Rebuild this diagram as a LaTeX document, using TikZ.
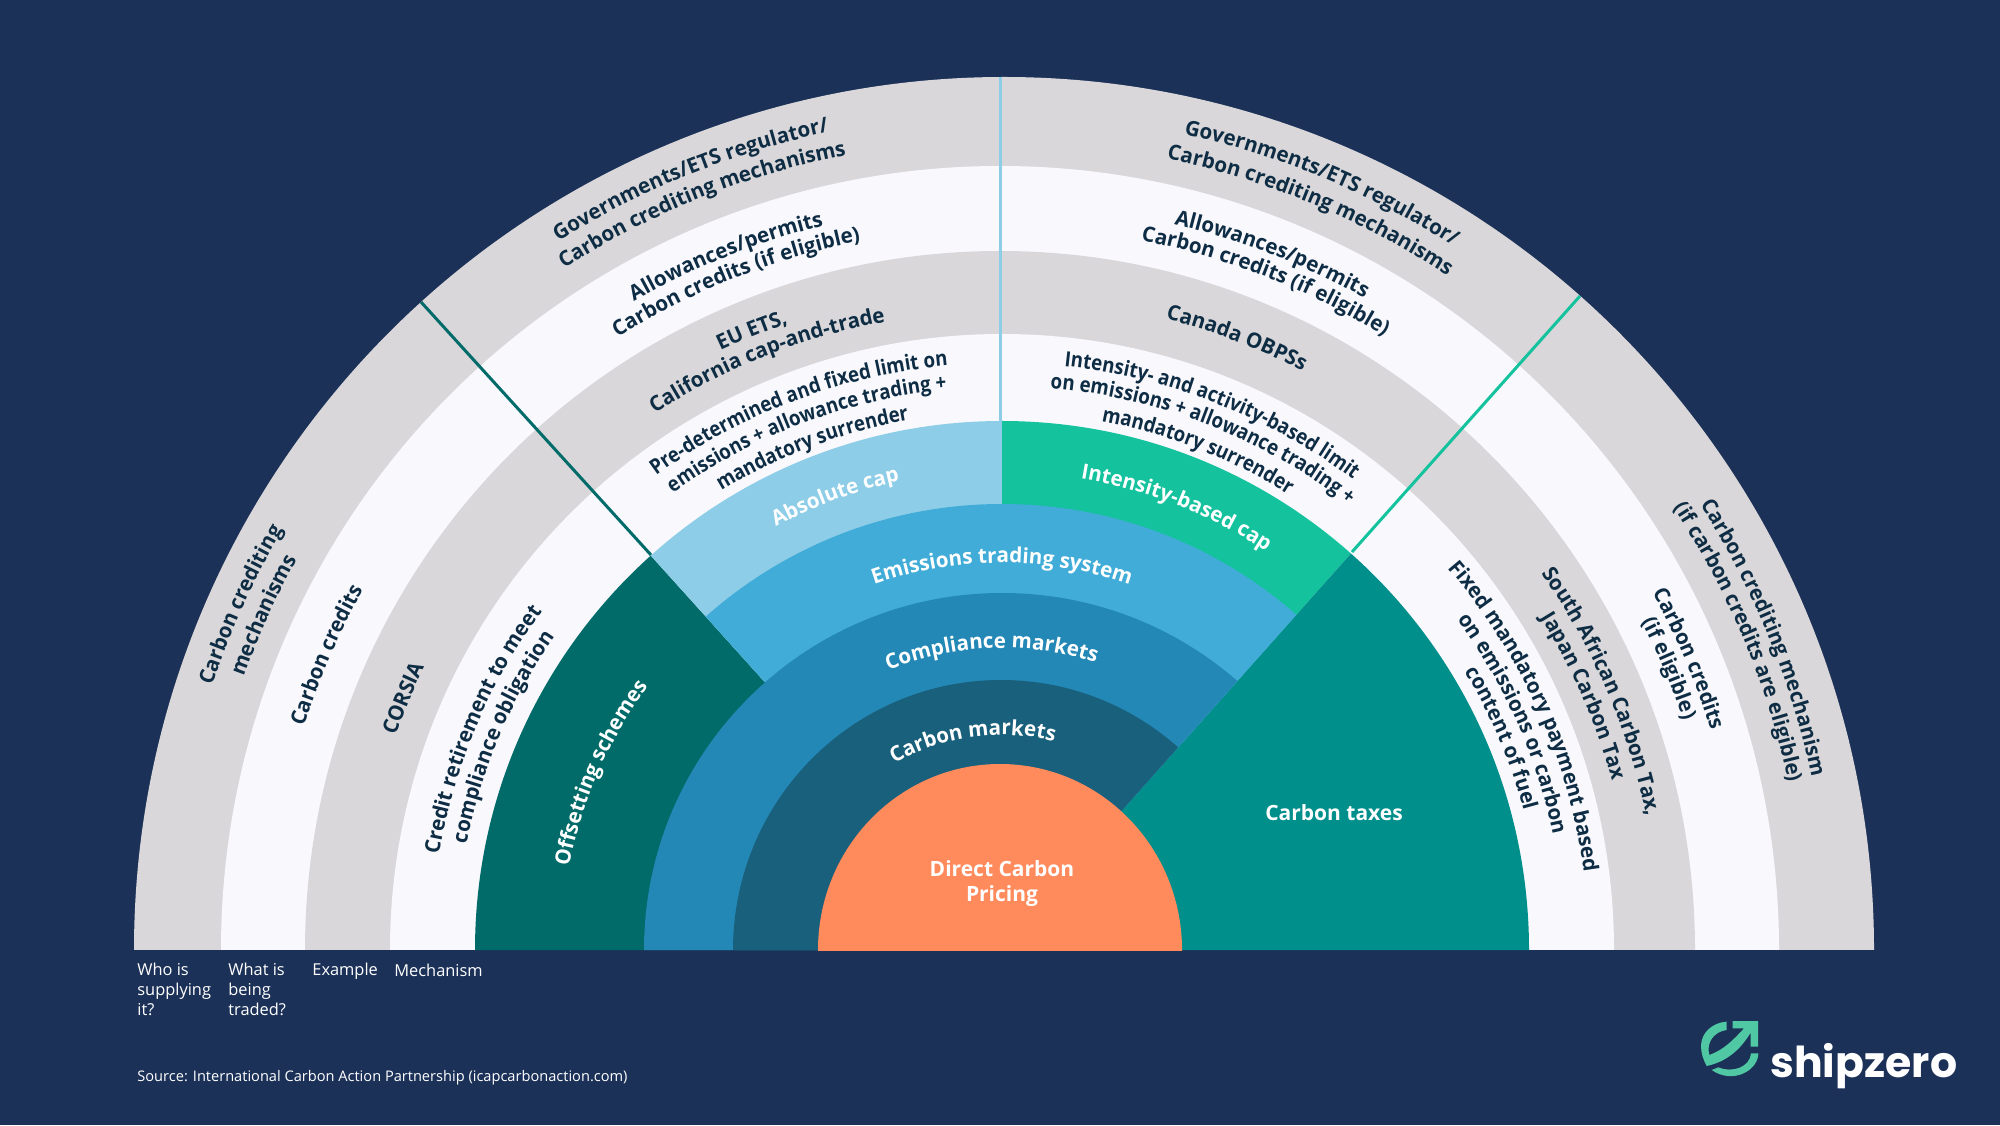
\documentclass[tikz,border=0pt]{standalone}
\usepackage{fontspec}
\setmainfont{Open Sans}
\newfontfamily\fbold{Open Sans Bold}
\newfontfamily\fa[FakeStretch=0.98]{Open Sans Bold}
\newfontfamily\fb[FakeStretch=0.89]{Open Sans Bold}
\newfontfamily\logofont{Poppins Bold}
\usetikzlibrary{decorations.text}
\definecolor{bgnavy}{HTML}{1C3158}
\definecolor{ringgrey}{HTML}{D9D7D9}
\definecolor{ringwhite}{HTML}{F8F8FD}
\definecolor{orangec}{HTML}{FF8A5C}
\definecolor{marketc}{HTML}{19607C}
\definecolor{compc}{HTML}{2488B6}
\definecolor{emisc}{HTML}{41ACD8}
\definecolor{absc}{HTML}{8ECDE8}
\definecolor{intc}{HTML}{14C29E}
\definecolor{offc}{HTML}{006B68}
\definecolor{taxc}{HTML}{008F8B}
\definecolor{inkc}{HTML}{0E2D44}
\definecolor{logoc}{HTML}{50C8A3}
\newcommand\ringtext[5][\fa]{%
  \path[decorate,decoration={text along path,
    text={|#1\fontsize{10.5}{13}\selectfont\color{#2}|#5},text align=center}]
    ([shift={(#4+50:#3)}]1002,175) arc[start angle=#4+50,end angle=#4-50,radius=#3];}
\tikzset{
  heading/.style={text=white,font=\fbold\fontsize{10.5}{12.6}\selectfont,align=center,inner sep=0pt},
  legend/.style={text=white,font=\fontsize{8.2}{10}\selectfont,align=left,inner sep=0pt,anchor=north west},
}
\begin{document}
\begin{tikzpicture}[x=0.5pt,y=0.5pt]
\useasboundingbox (0,0) rectangle (2000,1125);
\fill[bgnavy] (0,0) rectangle (2000,1125);
\begin{scope}
  \clip (0,175.6) rectangle (2000,1125);
  \fill[ringgrey] (1004,175) ellipse [x radius=870,y radius=873];
  \fill[ringwhite] (1000,175) ellipse [x radius=779,y radius=784];
  \fill[ringgrey] (1000,175) ellipse [x radius=695,y radius=699];
  \fill[ringwhite] (1002,175) ellipse [x radius=612,y radius=616];
  \draw[absc,line width=1.5pt] (1000,1048) -- (1000,704);
  \draw[offc,line width=1.5pt] (421,823) -- (651,570);
  \draw[intc,line width=1.5pt] (1580,829) -- (1352,573);
\end{scope}
\begin{scope}
  \clip (0,175) rectangle (2000,1125);
  \begin{scope}
    \clip (1002,180) -- (200,1069) -- (0,1069) -- (0,175) -- (1002,175) -- cycle;
    \fill[offc] (1002,175) ellipse [x radius=527,y radius=529];
  \end{scope}
  \begin{scope}
    \clip (1002,180) -- (200,1069) -- (1002,1069) -- cycle;
    \fill[absc] (1002,175) ellipse [x radius=527,y radius=529];
  \end{scope}
  \begin{scope}
    \clip (1002,180) -- (1800,1075) -- (1002,1075) -- cycle;
    \fill[intc] (1002,175) ellipse [x radius=527,y radius=529];
  \end{scope}
  \begin{scope}
    \clip (1002,180) -- (1800,1075) -- (2000,1075) -- (2000,175) -- (1002,175) -- cycle;
    \fill[taxc] (1002,175) ellipse [x radius=527,y radius=529];
  \end{scope}
  \begin{scope}
    \clip (1002,180) -- (200,1069) -- (1800,1075) -- cycle;
    \fill[emisc] (1002,175) ellipse [x radius=446,y radius=446];
  \end{scope}
  \begin{scope}
    \clip (1002,180) -- (1800,1075) -- (0,1075) -- (0,175) -- (1002,175) -- cycle;
    \fill[compc] (1002,175) ellipse [x radius=358,y radius=357];
    \fill[marketc] (1001,175) ellipse [x radius=268,y radius=270];
  \end{scope}
  \fill[orangec] (1000,175) ellipse [x radius=182,y radius=186];
\end{scope}

% top left block
\ringtext{inkc}{836}{112}{Governments/ETS regulator/}
\ringtext{inkc}{810}{111.9}{Carbon crediting mechanisms}
\ringtext{inkc}{746}{111.7}{Allowances/permits}
\ringtext{inkc}{723}{111.7}{Carbon credits (if eligible)}
\ringtext{inkc}{662}{112}{EU ETS,}
\ringtext{inkc}{639}{111.7}{California cap-and-trade}
\ringtext[\fb]{inkc}{587}{110.7}{Pre-determined and fixed limit on}
\ringtext[\fb]{inkc}{563}{110.7}{emissions + allowance trading +}
\ringtext[\fb]{inkc}{538}{110.7}{mandatory surrender}
\ringtext{white}{480}{110.2}{Absolute cap}
% top right block
\ringtext{inkc}{836}{67.4}{Governments/ETS regulator/}
\ringtext{inkc}{808}{67.4}{Carbon crediting mechanisms}
\ringtext{inkc}{746}{68.8}{Allowances/permits}
\ringtext{inkc}{723}{68.5}{Carbon credits (if eligible)}
\ringtext{inkc}{652}{69}{Canada OBPSs}
\ringtext[\fb]{inkc}{587}{68.6}{Intensity- and activity-based limit}
\ringtext[\fb]{inkc}{564}{68.6}{on emissions + allowance trading +}
\ringtext[\fb]{inkc}{538}{68.6}{mandatory surrender}
\ringtext{white}{478}{68.5}{Intensity-based cap}
% centre rings
\ringtext{white}{387}{90}{Emissions trading system}
\ringtext{white}{302}{92}{Compliance markets}
\ringtext{white}{215}{98}{Carbon markets}
% left block
\ringtext{inkc}{833}{155.6}{Carbon crediting}
\ringtext{inkc}{806}{155.6}{mechanisms}
\ringtext{inkc}{733}{156.4}{Carbon credits}
\ringtext{inkc}{643}{157.2}{CORSIA}
\ringtext{inkc}{571}{157}{Credit retirement to meet}
\ringtext{inkc}{546}{156.9}{compliance obligation}
\ringtext{white}{441}{156.2}{Offsetting schemes}
% right block
\ringtext{inkc}{828}{22.3}{Carbon crediting mechanism}
\ringtext{inkc}{804}{22.7}{(if carbon credits are eligible)}
\ringtext{inkc}{742}{23}{Carbon credits}
\ringtext{inkc}{719}{22.9}{(if eligible)}
\ringtext{inkc}{658}{23.3}{South African Carbon Tax,}
\ringtext{inkc}{633}{23.6}{Japan Carbon Tax}
\ringtext{inkc}{587}{24.1}{Fixed mandatory payment based}
\ringtext{inkc}{563}{23.9}{on emissions or carbon}
\ringtext{inkc}{540}{23}{content of fuel}

\node[heading] (taxes) at (1334,312) {Carbon taxes};
\node[heading] (pricing) at (1002,241.5) {Direct Carbon\\Pricing};

\node[legend] (who) at (137,162) {Who is\\supplying\\it?};
\node[legend] (what) at (228,162) {What is\\being\\traded?};
\node[legend] (ex) at (312,162) {Example};
\node[legend] (mech) at (394,161) {Mechanism};
\node[legend,font=\fontsize{7.3}{9}\selectfont] (src) at (137,55) {Source: International Carbon Action Partnership (icapcarbonaction.com)};

\begin{scope}[shift={(1690,115)},xscale=1/3,yscale=-1/3]
  \fill[logoc] (110,35) .. controls (65,38) and (33,70) .. (33,108)
    .. controls (33,130) and (40,150) .. (50,168)
    .. controls (110,155) and (150,120) .. (182,68)
    -- (182,110) -- (204,110) -- (204,33) -- (128,33) -- (128,55) -- (162,55)
    .. controls (130,90) and (100,120) .. (58,135)
    .. controls (48,100) and (70,65) .. (110,60) -- cycle;
  \fill[logoc] (65,180) -- (85,172) .. controls (130,190) and (180,170) .. (183,130)
    -- (205,130) .. controls (205,180) and (130,225) .. (65,180) -- cycle;
\end{scope}
\node[inner sep=0pt,anchor=base west,text=white,font=\logofont\fontsize{21.3}{26}\selectfont] (logo) at (1770,48) {shipzero};
\end{tikzpicture}
\end{document}
